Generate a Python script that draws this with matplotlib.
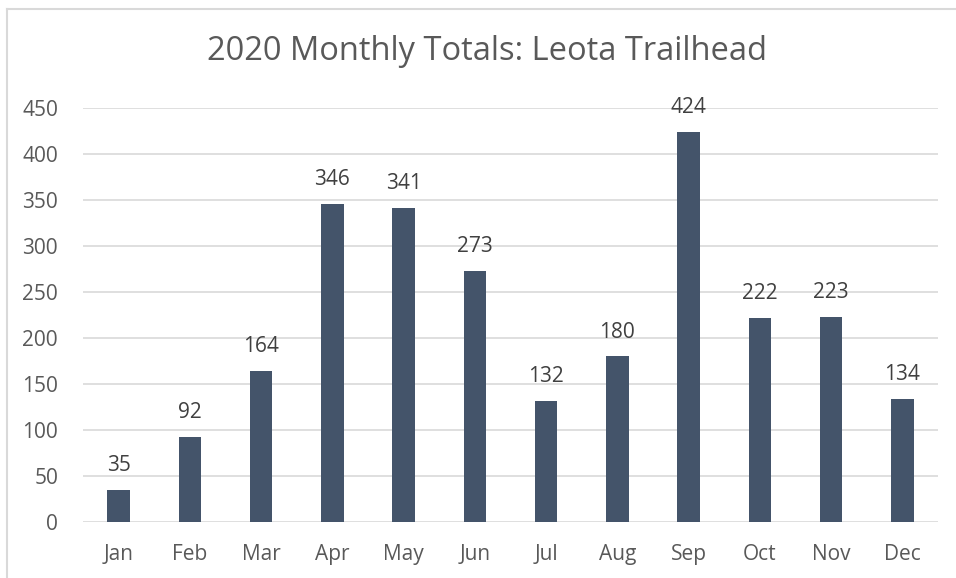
import matplotlib.pyplot as plt
from matplotlib.lines import Line2D

months = ['Jan', 'Feb', 'Mar', 'Apr', 'May', 'Jun',
          'Jul', 'Aug', 'Sep', 'Oct', 'Nov', 'Dec']
totals = [35, 92, 164, 346, 341, 273, 132, 180, 424, 222, 223, 134]
y_ticks = [0, 50, 100, 150, 200, 250, 300, 350, 400, 450]

text_color = '#595959'
label_color = '#404040'
bar_color = '#44546A'
grid_color = '#D9D9D9'

plt.rcParams['font.family'] = ['Open Sans', 'DejaVu Sans']

fig = plt.figure(figsize=(9.56, 5.78), dpi=100)
ax = fig.add_axes([83 / 956, 1 - 522 / 578, (938 - 83) / 956, (522 - 108) / 578])

bars = ax.bar(range(len(months)), totals, width=0.314, color=bar_color, zorder=3)
for rect, v in zip(bars, totals):
    ax.annotate(str(v), (rect.get_x() + rect.get_width() / 2, v),
                xytext=(0, 10), textcoords='offset points',
                ha='center', va='bottom', fontsize=15, color=label_color)

ax.set_xlim(-0.5, len(months) - 0.5)
ax.set_ylim(0, 450)
ax.set_yticks(y_ticks)
ax.set_xticks(range(len(months)))
ax.set_xticklabels(months)
ax.tick_params(axis='both', length=0, labelsize=15, labelcolor=text_color)
ax.tick_params(axis='y', pad=18)
ax.tick_params(axis='x', pad=16)
ax.grid(axis='y', color=grid_color, linewidth=1.2, zorder=0)
for s in ax.spines.values():
    s.set_visible(False)

fig.text(487 / 956, 1 - 52 / 578, '2020 Monthly Totals: Leota Trailhead',
         ha='center', va='center', fontsize=23.5, color=text_color)

# chart border (top and left only visible)
fig.add_artist(Line2D([7 / 956, 1], [1 - 9 / 578, 1 - 9 / 578], color=grid_color, linewidth=1.5))
fig.add_artist(Line2D([7 / 956, 7 / 956], [0, 1 - 9 / 578], color=grid_color, linewidth=1.5))

fig.savefig('out.png', dpi=100)
